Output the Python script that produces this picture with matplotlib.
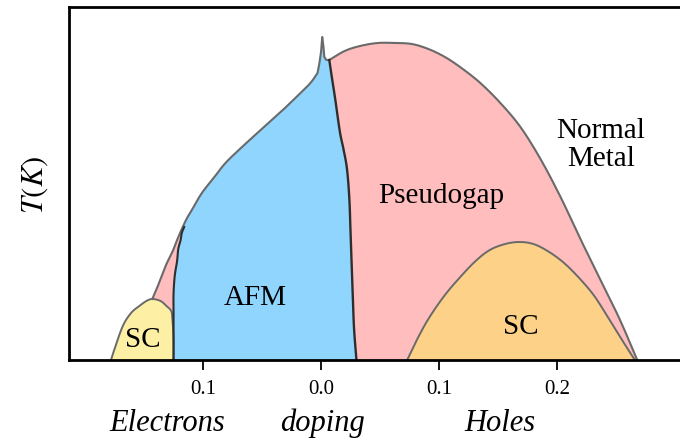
import numpy as np
import matplotlib
matplotlib.use("Agg")
import matplotlib.pyplot as plt

plt.rcParams["font.family"] = ["Liberation Serif", "DejaVu Serif"]
plt.rcParams["mathtext.fontset"] = "stix"

# ---------------------------------------------------------------------------
# Phase boundaries (doping: electrons < 0 < holes, T arb.)
# ---------------------------------------------------------------------------

# electron-doped SC dome
sc_e_x = [-0.178, -0.175, -0.168, -0.161, -0.154, -0.148, -0.143, -0.136,
          -0.131, -0.127, -0.126, -0.125, -0.125]
sc_e_t = [0, 11, 34, 47, 54, 59, 61, 59, 54, 49, 41, 21, 0]

# outer envelope, left side, from e-SC top up to the base of the spike
outer_l_x = [-0.143, -0.139, -0.135, -0.131, -0.126, -0.122, -0.118, -0.114,
             -0.109, -0.101, -0.091, -0.081, -0.067, -0.053, -0.036, -0.020,
             -0.009, -0.003]
outer_l_t = [61, 72, 84, 96, 108, 120, 131, 141, 151, 167, 182, 197, 213,
             228, 246, 264, 277, 287]

# the narrow spike at zero doping
spike_x = [-0.003, -0.0015, 0.000, 0.001, 0.002, 0.0028, 0.0045, 0.007]
spike_t = [287, 296, 308, 323, 314, 303, 300, 300]

# pseudogap envelope, hole side
outer_r_x = [0.007, 0.020, 0.033, 0.048, 0.063, 0.077, 0.091, 0.105, 0.119,
             0.135, 0.152, 0.169, 0.186, 0.203, 0.219, 0.236, 0.253, 0.268]
outer_r_t = [300, 309, 314, 317, 317, 316, 311, 303, 292, 277, 257, 233, 201,
             163, 123, 82, 41, 0]

# AFM / pseudogap boundary
afm_r_x = [0.007, 0.009, 0.012, 0.016, 0.019, 0.022, 0.024, 0.025, 0.026,
           0.027, 0.028, 0.030]
afm_r_t = [300, 284, 261, 228, 211, 191, 161, 128, 94, 61, 31, 0]

# AFM left boundary (electron side)
afm_l_x = [-0.125, -0.125, -0.125, -0.125, -0.124, -0.122, -0.121, -0.119,
           -0.118, -0.116]
afm_l_t = [0, 31, 48, 66, 84, 99, 111, 120, 127, 133]

# hole-doped SC dome
sc_h_x = [0.073, 0.082, 0.092, 0.105, 0.118, 0.131, 0.143, 0.156, 0.168,
          0.180, 0.192, 0.205, 0.218, 0.231, 0.242, 0.253, 0.261, 0.266]
sc_h_t = [0, 22, 43, 65, 83, 99, 110, 116, 118, 116, 109, 98, 83, 65, 45,
          24, 9, 0]

tick_pos = [-0.1, 0.0, 0.1, 0.2]
tick_lab = ["0.1", "0.0", "0.1", "0.2"]

pink = "#ffbdbd"
blue = "#8fd5fd"
yellow = "#fdf0a5"
orange = "#fdd187"
edge = "#6a6a6a"
dark = "#2e2e2e"


def smooth(x, y, n=10):
    """Catmull-Rom curve through the read points (drawing only)."""
    p = np.column_stack([x, y]).astype(float)
    p = np.vstack([2 * p[0] - p[1], p, 2 * p[-1] - p[-2]])
    out = []
    s = np.linspace(0, 1, n, endpoint=False)[:, None]
    for i in range(1, len(p) - 2):
        p0, p1, p2, p3 = p[i - 1], p[i], p[i + 1], p[i + 2]
        out.append(0.5 * (2 * p1 + (-p0 + p2) * s
                          + (2 * p0 - 5 * p1 + 4 * p2 - p3) * s ** 2
                          + (-p0 + 3 * p1 - 3 * p2 + p3) * s ** 3))
    out.append(p[-2][None, :])
    out = np.vstack(out)
    return list(out[:, 0]), list(out[:, 1])


ol_x, ol_t = smooth(outer_l_x, outer_l_t)
or_x, or_t = smooth(outer_r_x, outer_r_t)
ar_x, ar_t = smooth(afm_r_x, afm_r_t)
al_x, al_t = smooth(afm_l_x, afm_l_t)
se_x, se_t = smooth(sc_e_x, sc_e_t)
sh_x, sh_t = smooth(sc_h_x, sc_h_t)

fig = plt.figure(figsize=(6.8, 4.39), dpi=100)
ax = fig.add_axes([69 / 680, 78 / 439, 640 / 680, 353 / 439])

# pseudogap region (drawn first, AFM and SC sit on top)
pg_x = ol_x + spike_x + or_x + [0.030, -0.125]
pg_t = ol_t + spike_t + or_t + [0, 0]
ax.fill(pg_x, pg_t, color=pink, lw=0)

# AFM region
k = next(i for i, t in enumerate(ol_t) if t > 133)
afm_x = al_x + ol_x[k:] + spike_x + ar_x
afm_t = al_t + ol_t[k:] + spike_t + ar_t
ax.fill(afm_x, afm_t, color=blue, lw=0)

ax.fill(se_x, se_t, color=yellow, lw=0)
ax.fill(sh_x, sh_t, color=orange, lw=0)

# outlines
ax.plot(ol_x + spike_x, ol_t + spike_t, color=edge, lw=1.5,
        solid_joinstyle="round")
ax.plot(or_x, or_t, color=edge, lw=1.5)
ax.plot(se_x, se_t, color=edge, lw=1.4)
ax.plot(sh_x, sh_t, color=edge, lw=1.4)
ax.plot(ar_x, ar_t, color=dark, lw=1.7)
ax.plot(al_x, al_t, color=dark, lw=1.5)

# labels inside the diagram
lab_kw = dict(ha="center", va="center", fontsize=21)
ax.text(-0.151, 21, "SC", **lab_kw)
ax.text(-0.056, 63, "AFM", **lab_kw)
ax.text(0.102, 165, "Pseudogap", **lab_kw)
ax.text(0.169, 34, "SC", **lab_kw)
ax.text(0.237, 216, "Normal\nMetal", linespacing=1.1, **lab_kw)

ax.set_xlim(-0.2136, 0.3288)
ax.set_ylim(0, 353)
ax.set_xticks(tick_pos)
ax.set_xticklabels(tick_lab, fontsize=15)
ax.set_yticks([])
ax.tick_params(axis="x", direction="out", length=7, width=1.3, pad=7)
for s in ax.spines.values():
    s.set_linewidth(2)

ax.set_ylabel("$T(K)$", fontsize=22, labelpad=14)

for x, txt in [(-0.130, "Electrons"), (0.001, "doping"), (0.152, "Holes")]:
    ax.text(x, -0.176, txt, transform=ax.get_xaxis_transform(),
            ha="center", va="center", fontsize=22, style="italic")

fig.savefig("out.png", dpi=100)
